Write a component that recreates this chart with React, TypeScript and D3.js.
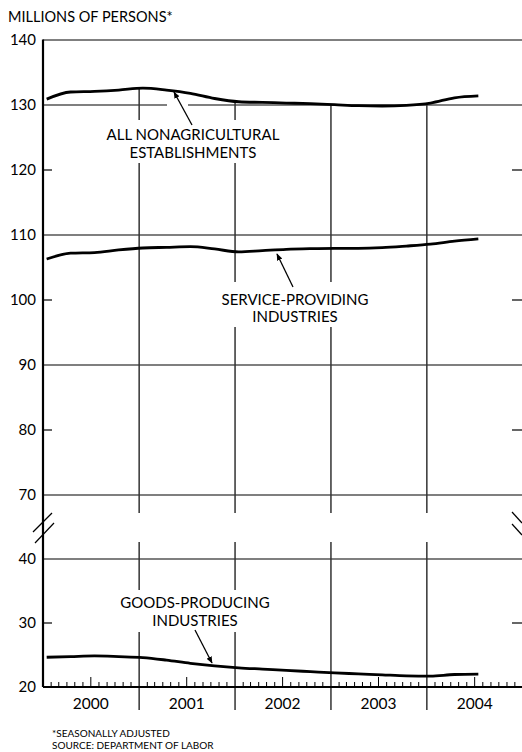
import React from 'react';
import * as d3 from 'd3';

// quarterly readings (mid-month), millions of persons, seasonally adjusted
const months = [
  '2000-01', '2000-04', '2000-07', '2000-10',
  '2001-01', '2001-04', '2001-07', '2001-10',
  '2002-01', '2002-04', '2002-07', '2002-10',
  '2003-01', '2003-04', '2003-07', '2003-10',
  '2004-01', '2004-04', '2004-07',
];
const totalNonag = [
  130.9, 132.0, 132.1, 132.3, 132.6, 132.3, 131.8, 131.0, 130.5, 130.4,
  130.3, 130.2, 130.05, 129.9, 129.85, 129.95, 130.3, 131.1, 131.4,
];
const serviceProviding = [
  106.3, 107.2, 107.3, 107.7, 108.0, 108.1, 108.2, 107.85, 107.4, 107.6,
  107.8, 107.9, 107.95, 107.95, 108.05, 108.3, 108.6, 109.05, 109.4,
];
const goodsProducing = [
  24.65, 24.75, 24.85, 24.75, 24.6, 24.2, 23.7, 23.3, 23.0, 22.8,
  22.6, 22.4, 22.2, 22.05, 21.9, 21.75, 21.7, 21.95, 22.0,
];
const years = [2000, 2001, 2002, 2003, 2004];
const upperTicks = [140, 130, 120, 110, 100, 90, 80, 70];
const lowerTicks = [40, 30, 20];
const gridValues = [130, 110, 90, 70, 40];

const W = 522;
const H = 752;
const FONT = 'Lato, "Open Sans", sans-serif';

const parseMonth = (s: string) => {
  const [y, m] = s.split('-').map(Number);
  return new Date(y, m - 1, 15);
};
const dates = months.map(parseMonth);

const x = d3.scaleTime()
  .domain([new Date(2000, 0, 1), new Date(2005, 0, 1)])
  .range([43, 523]);
const yTop = d3.scaleLinear().domain([70, 140]).range([495, 40]);
const yBot = d3.scaleLinear().domain([20, 40]).range([687, 559]);

const left = 43;
const right = W;
const baseY = yBot(20);

const makeLine = (vals: number[], y: d3.ScaleLinear<number, number>) =>
  d3.line<number>()
    .x((_, i) => x(dates[i]))
    .y((d) => y(d))
    .curve(d3.curveMonotoneX)(vals) || '';

// value of the total series at a date (linear between readings)
const totalAt = (d: Date) => {
  const t = d.getTime();
  const i = d3.bisector((dd: Date) => dd.getTime()).right(dates, t);
  if (i <= 0) return totalNonag[0];
  if (i >= dates.length) return totalNonag[totalNonag.length - 1];
  const t0 = dates[i - 1].getTime();
  const t1 = dates[i].getTime();
  return d3.interpolateNumber(totalNonag[i - 1], totalNonag[i])((t - t0) / (t1 - t0));
};

const Arrow = ({ x1, y1, x2, y2 }: { x1: number; y1: number; x2: number; y2: number }) => (
  <line x1={x1} y1={y1} x2={x2} y2={y2} stroke="#000" strokeWidth={1.3} markerEnd="url(#ah)" />
);

export default function App() {
  const monthTicks: { t: number; tall: boolean }[] = [];
  years.forEach((yr) => {
    for (let m = 1; m < 12; m++) {
      monthTicks.push({ t: x(new Date(yr, m, 1)), tall: m === 6 });
    }
  });
  const dividers = years.slice(1).map((yr) => new Date(yr, 0, 1));

  return (
    <div style={{ position: 'absolute', left: 0, top: 0 }}>
      <svg width={W} height={H} style={{ display: 'block', background: '#fff' }} fontFamily={FONT}>
        <defs>
          <marker id="ah" viewBox="0 0 10 10" refX="9" refY="5" markerWidth="7" markerHeight="7"
            markerUnits="userSpaceOnUse" orient="auto">
            <path d="M0,1 L10,5 L0,9 Z" fill="#000" />
          </marker>
        </defs>

        <text x={8} y={22} fontSize={14.5} fill="#000">MILLIONS OF PERSONS*</text>

        {/* top border */}
        <line x1={left} x2={right} y1={yTop(140)} y2={yTop(140)} stroke="#000" strokeWidth={1} />

        {/* grid lines */}
        {gridValues.map((v) => {
          const yy = v >= 70 ? yTop(v) : yBot(v);
          return <line key={v} x1={left} x2={right} y1={yy} y2={yy} stroke="#000" strokeWidth={1.2} />;
        })}

        {/* tick marks both sides */}
        {[120, 100, 80].map((v) => (
          <g key={v}>
            <line x1={left} x2={left + 9} y1={yTop(v)} y2={yTop(v)} stroke="#000" strokeWidth={1.2} />
            <line x1={right - 10} x2={right} y1={yTop(v)} y2={yTop(v)} stroke="#000" strokeWidth={1.2} />
          </g>
        ))}
        <line x1={left} x2={left + 9} y1={yBot(30)} y2={yBot(30)} stroke="#000" strokeWidth={1.2} />
        <line x1={right - 10} x2={right} y1={yBot(30)} y2={yBot(30)} stroke="#000" strokeWidth={1.2} />

        {/* year dividers */}
        {dividers.map((d, i) => (
          <line key={i} x1={x(d)} x2={x(d)} y1={yTop(totalAt(d))} y2={710} stroke="#333" strokeWidth={1.5} />
        ))}

        {/* knockouts behind labels and at break */}
        <rect x={100} y={120} width={188} height={43} fill="#fff" />
        <rect x={214} y={282} width={164} height={45} fill="#fff" />
        <rect x={108} y={590} width={175} height={42} fill="#fff" />
        <rect x={46} y={513} width={464} height={29} fill="#fff" />
        <rect x={167} y={102} width={21} height={6} fill="#fff" />

        {/* monthly ticks */}
        {monthTicks.map((m, i) => (
          <line key={i} x1={m.t} x2={m.t} y1={baseY} y2={baseY - (m.tall ? 10 : 5)} stroke="#000" strokeWidth={1} />
        ))}

        {/* series */}
        <path d={makeLine(totalNonag, yTop)} fill="none" stroke="#000" strokeWidth={2.8} />
        <path d={makeLine(serviceProviding, yTop)} fill="none" stroke="#000" strokeWidth={2.8} />
        <path d={makeLine(goodsProducing, yBot)} fill="none" stroke="#000" strokeWidth={2.8} />

        {/* axes */}
        <line x1={left} x2={left} y1={yTop(140) - 0.5} y2={baseY} stroke="#000" strokeWidth={2.2} />
        <line x1={left} x2={right} y1={baseY} y2={baseY} stroke="#000" strokeWidth={2} />

        {/* break marks */}
        <line x1={33} y1={532} x2={52} y2={513} stroke="#000" strokeWidth={1.2} />
        <line x1={35} y1={543} x2={54} y2={523} stroke="#000" strokeWidth={1.2} />
        <line x1={512} y1={512} x2={522} y2={523} stroke="#000" strokeWidth={1.2} />
        <line x1={512} y1={524} x2={522} y2={535} stroke="#000" strokeWidth={1.2} />

        {/* y tick labels */}
        {upperTicks.map((v) => (
          <text key={v} x={36} y={yTop(v)} dy="0.36em" textAnchor="end" fontSize={15}>{v}</text>
        ))}
        {lowerTicks.map((v) => (
          <text key={v} x={36} y={yBot(v)} dy="0.36em" textAnchor="end" fontSize={15}>{v}</text>
        ))}

        {/* year labels */}
        {years.map((yr) => (
          <text key={yr} x={x(new Date(yr, 6, 1))} y={709} textAnchor="middle" fontSize={15.5}>{yr}</text>
        ))}

        {/* annotations */}
        <text x={193} y={140} textAnchor="middle" fontSize={15}>ALL NONAGRICULTURAL</text>
        <text x={193} y={158} textAnchor="middle" fontSize={15}>ESTABLISHMENTS</text>
        <Arrow x1={192} y1={125} x2={174} y2={92} />

        <text x={295} y={305} textAnchor="middle" fontSize={15}>SERVICE-PROVIDING</text>
        <text x={295} y={322} textAnchor="middle" fontSize={15}>INDUSTRIES</text>
        <Arrow x1={293} y1={287} x2={277} y2={254} />

        <text x={195} y={608} textAnchor="middle" fontSize={15}>GOODS-PRODUCING</text>
        <text x={195} y={626} textAnchor="middle" fontSize={15}>INDUSTRIES</text>
        <Arrow x1={195} y1={630} x2={212} y2={663} />

        {/* footnotes */}
        <text x={52} y={737} fontSize={10}>*SEASONALLY ADJUSTED</text>
        <text x={52} y={749} fontSize={10}>SOURCE: DEPARTMENT OF LABOR</text>
      </svg>
    </div>
  );
}
